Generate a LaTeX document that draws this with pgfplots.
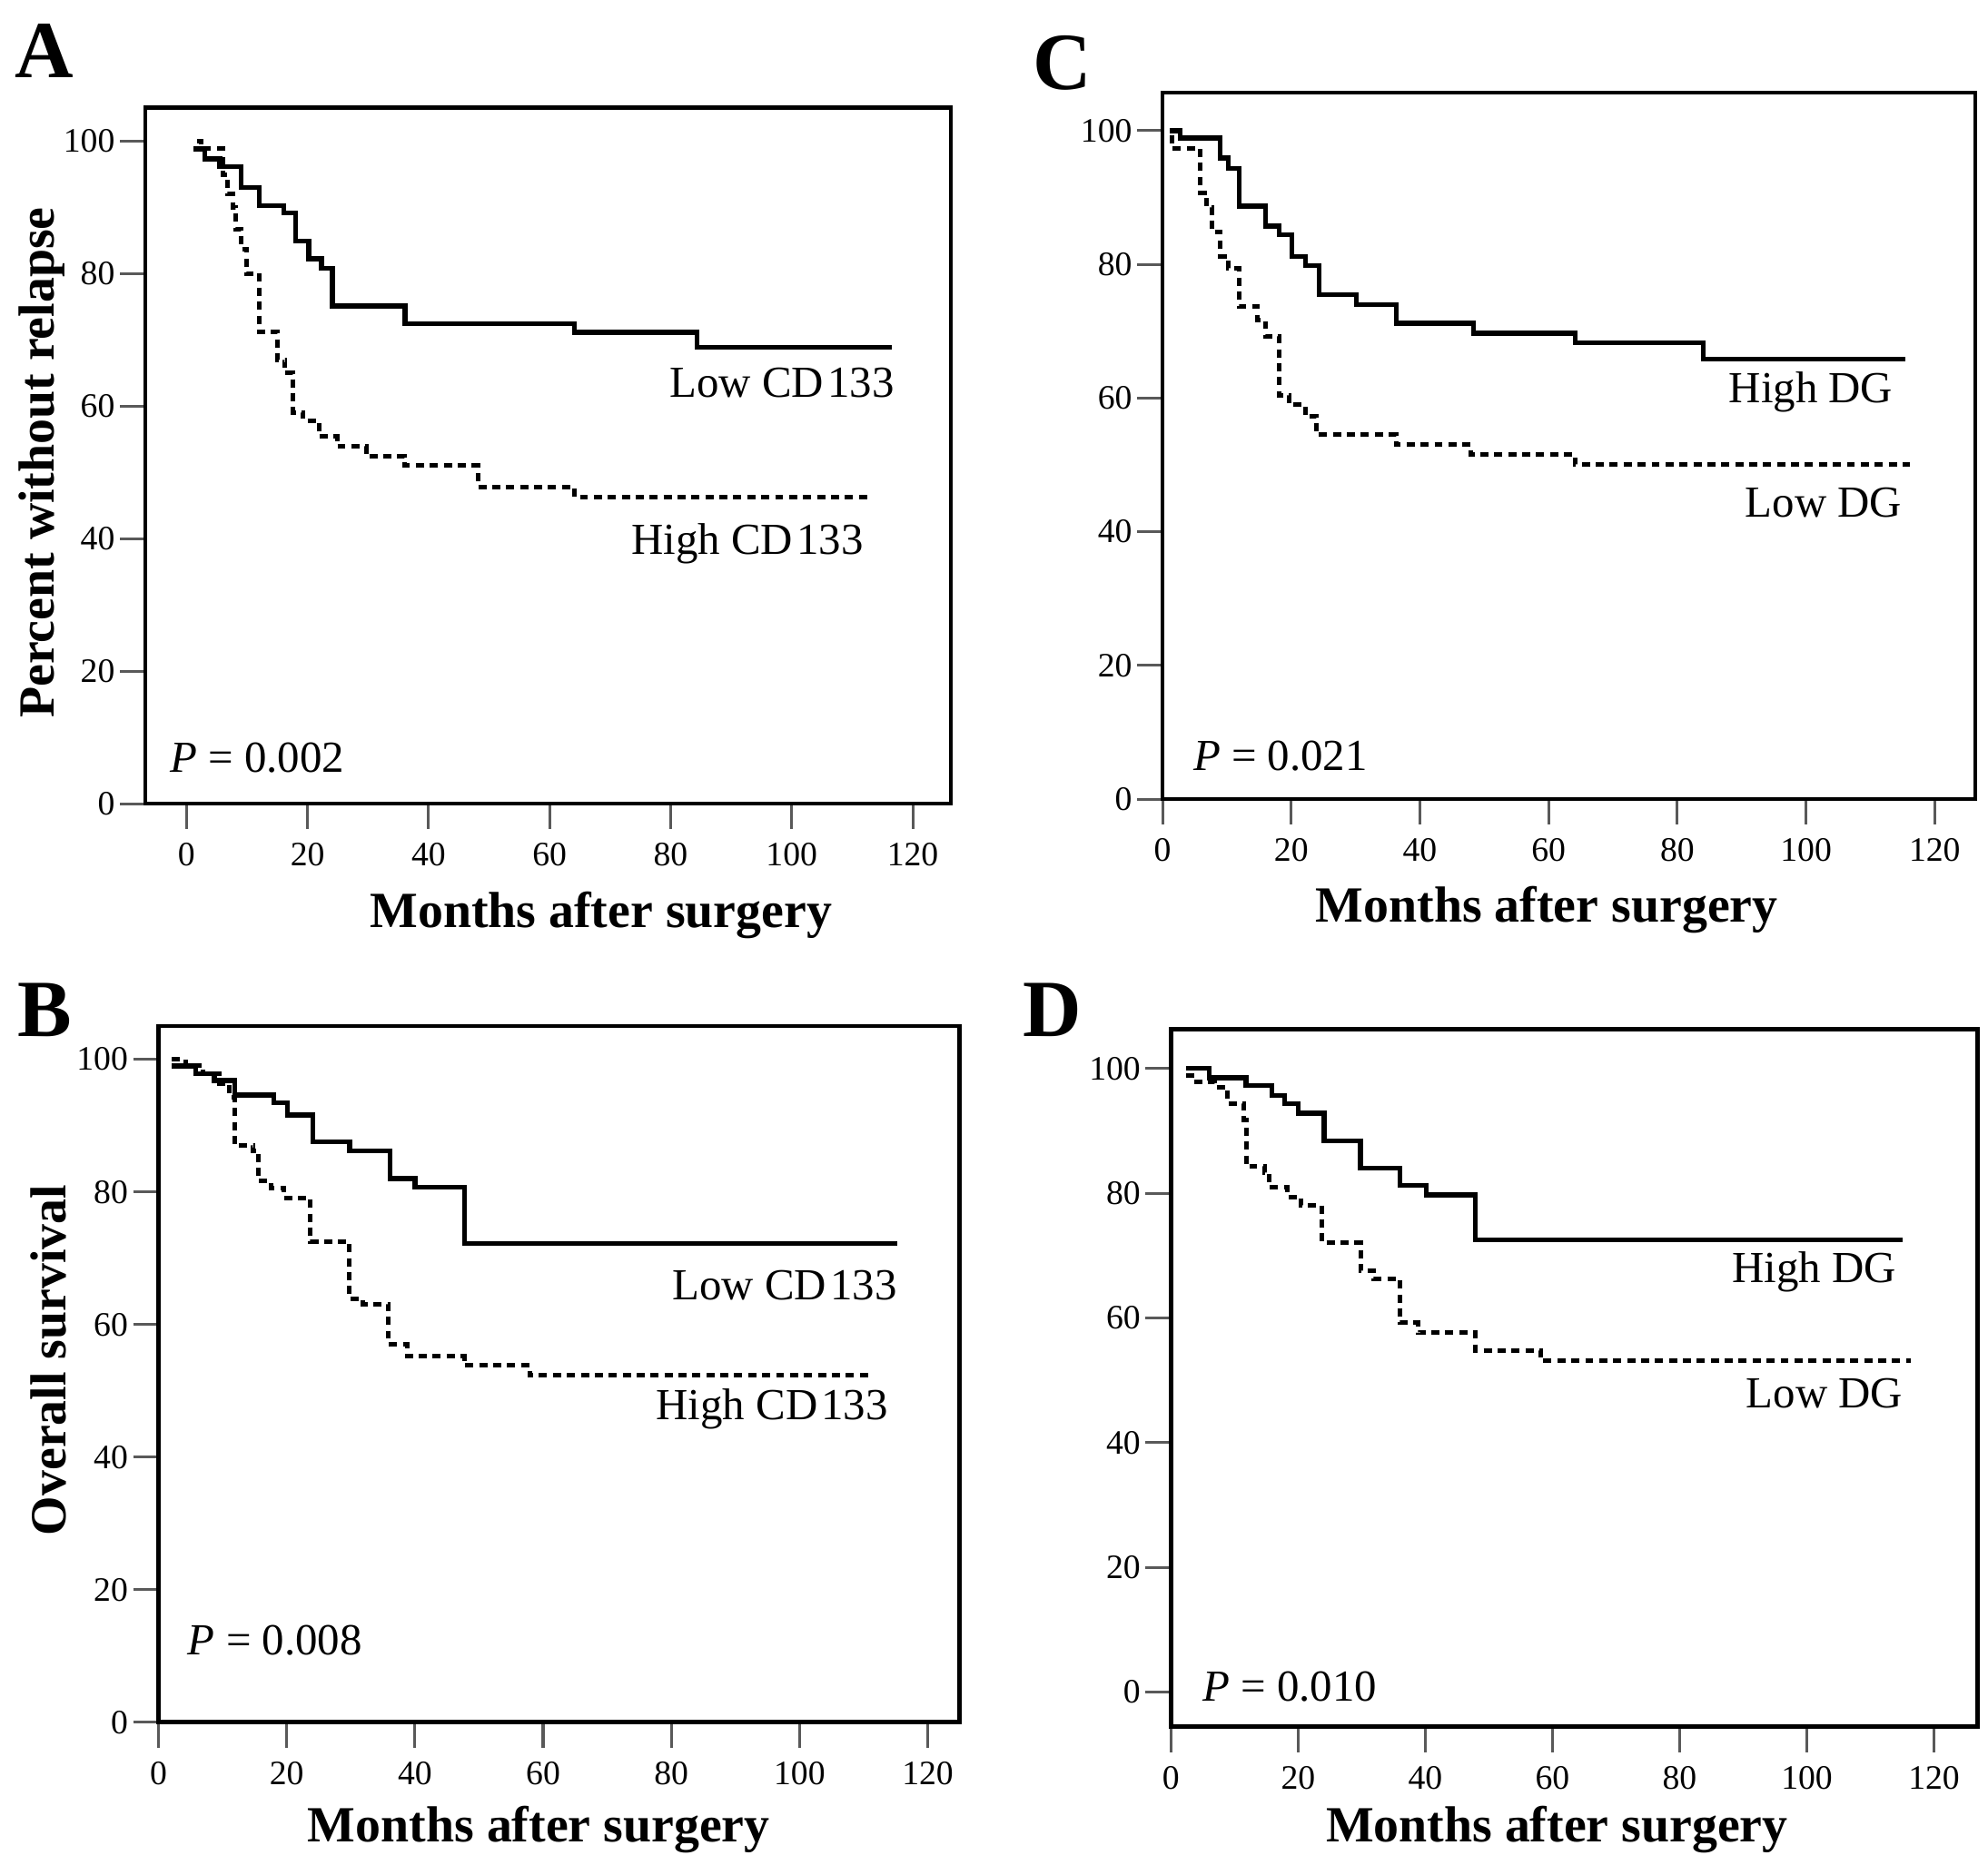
\documentclass[border=0pt]{standalone}
\usepackage{fontspec}
\setmainfont{Liberation Serif}
\usepackage{pgfplots}
\pgfplotsset{compat=1.18}

\pgfplotsset{
  km/.style={
    scale only axis,
    anchor=south west,
    axis line style={line width=1.7pt},
    xtick={0,20,...,120}, ytick={0,20,...,100},
    tick align=outside, xtick pos=left, ytick pos=left,
    major tick length=10pt,
    tick style={line width=1.1pt, black!65},
    tick label style={font=\fontsize{13.5}{13.5}\selectfont},
    xticklabel style={yshift=-2pt},
    yticklabel style={xshift=1.5pt},
    /pgf/number format/assume math mode=true,
    clip=false,
  },
  solidkm/.style={const plot, black, line width=1.9pt},
  dashkm/.style={const plot, black, line width=1.8pt, dash pattern=on 3.2pt off 2.3pt},
}
\newcommand{\lab}{\fontsize{17.5}{17.5}\selectfont}
\newcommand{\axlab}{\bfseries\fontsize{20}{20}\selectfont}
\newcommand{\panel}{\bfseries\fontsize{32}{32}\selectfont}

\begin{document}
\begin{tikzpicture}
\useasboundingbox (0,0) rectangle (784pt,739.5pt);

% A: relapse-free, CD133
\begin{axis}[km, at={(57.3pt,422.5pt)}, width=317.7pt, height=274.5pt,
    xmin=-6.8, xmax=126.3, ymin=0, ymax=105]
\addplot[solidkm] coordinates {
(1.2,98.8) (3.0,97.3) (5.5,96.1) (9.0,93.0) (12.0,90.2) (16.1,89.1) (18.0,84.9) (20.2,82.2) (22.3,80.8) (24.1,75.1) (36.1,72.4) (64.1,71.1) (84.4,68.9) (116.6,68.9)
};
\addplot[dashkm] coordinates {
(1.7,100) (2.5,98.8) (6.0,94.9) (6.8,92.0) (7.7,90.0) (8.1,86.6) (9.0,83.7) (9.9,80.0) (12.0,71.2) (15.0,67.0) (16.3,65.0) (17.6,59.0) (19.3,57.8) (21.9,55.4) (24.9,53.9) (29.7,52.4) (36.1,51.0) (48.2,47.8) (64.1,46.3) (112.8,46.3)
};
\node[anchor=east, font=\lab] at (axis cs:118.4,63.5) {Low CD\kern1.5pt 133};
\node[anchor=east, font=\lab] at (axis cs:113.3,39.2) {High CD\kern1.5pt 133};
\node[anchor=west, font=\lab] at (axis cs:-4.2,6.9) {\textit{P} = 0.002};
\end{axis}

% C: relapse-free, DG
\begin{axis}[km, at={(458.45pt,424.3pt)}, width=320.5pt, height=278.7pt,
    xmin=0, xmax=126.3, ymin=0, ymax=105.7]
\addplot[solidkm] coordinates {
(1.1,100) (2.7,98.9) (9.0,95.9) (10.2,94.3) (11.9,88.7) (16.0,85.7) (18.1,84.4) (20.1,81.2) (22.2,79.8) (24.3,75.5) (30.1,74.0) (36.3,71.2) (48.3,69.7) (64.1,68.3) (84.0,65.8) (115.4,65.8)
};
\addplot[dashkm] coordinates {
(1.1,98.9) (1.5,97.3) (5.9,90.7) (6.9,88.5) (7.7,84.8) (9.0,81.2) (10.2,79.4) (11.9,73.7) (14.8,71.7) (16.0,69.2) (18.1,60.4) (19.7,59.0) (22.2,57.2) (23.9,54.5) (36.3,53.0) (47.9,51.5) (64.1,50.0) (116.2,50.0)
};
\node[anchor=east, font=\lab] at (axis cs:114.9,60.9) {High DG};
\node[anchor=east, font=\lab] at (axis cs:116.3,44.4) {Low DG};
\node[anchor=west, font=\lab] at (axis cs:3.4,6.5) {\textit{P} = 0.021};
\end{axis}

% B: overall survival, CD133
\begin{axis}[km, at={(62.5pt,60.15pt)}, width=316pt, height=274.6pt,
    xmin=0, xmax=125, ymin=0, ymax=105]
\addplot[solidkm] coordinates {
(2.1,99.0) (5.8,97.8) (8.7,96.8) (11.9,94.6) (18.0,93.4) (20.1,91.6) (24.1,87.6) (29.8,86.2) (36.1,82.0) (40.0,80.7) (47.7,72.2) (115.3,72.2)
};
\addplot[dashkm] coordinates {
(2.1,100) (4.2,99.0) (7.0,97.8) (9.5,96.3) (11.1,94.3) (11.9,87.0) (14.8,86.2) (15.6,81.6) (17.6,80.6) (19.6,79.1) (23.7,72.5) (29.8,63.8) (31.9,63.1) (35.9,57.0) (38.8,55.2) (47.7,53.8) (57.9,52.3) (111.3,52.3)
};
\node[anchor=east, font=\lab] at (axis cs:116.6,65.9) {Low CD\kern1.5pt 133};
\node[anchor=east, font=\lab] at (axis cs:115.2,47.2) {High CD\kern1.5pt 133};
\node[anchor=west, font=\lab] at (axis cs:3.2,12.4) {\textit{P} = 0.008};
\end{axis}

% D: overall survival, DG
\begin{axis}[km, at={(461.8pt,58.35pt)}, width=318.2pt, height=275.2pt,
    xmin=0, xmax=126.9, ymin=-5.6, ymax=106.3]
\addplot[solidkm] coordinates {
(2.4,100) (6.0,98.5) (11.8,97.3) (15.9,95.7) (17.9,94.4) (20.0,92.8) (24.1,88.4) (29.8,84.0) (36.0,81.2) (40.1,79.7) (47.9,72.5) (115.1,72.5)
};
\addplot[dashkm] coordinates {
(2.4,98.8) (4.0,97.8) (6.9,97.0) (8.9,94.4) (11.4,91.8) (11.8,84.3) (14.7,83.3) (15.5,80.9) (18.3,79.4) (20.4,78.1) (23.7,72.1) (29.8,67.5) (31.9,66.2) (36.0,59.2) (38.8,57.6) (47.9,54.8) (58.1,53.2) (116.3,53.2)
};
\node[anchor=east, font=\lab] at (axis cs:115.5,67.3) {High DG};
\node[anchor=east, font=\lab] at (axis cs:116.5,47.9) {Low DG};
\node[anchor=west, font=\lab] at (axis cs:3.6,0.8) {\textit{P} = 0.010};
\end{axis}

% axis titles and panel letters
\node[font=\axlab] at (237pt,378.5pt) {Months after surgery};
\node[font=\axlab] at (610pt,380.5pt) {Months after surgery};
\node[font=\axlab] at (212.5pt,18pt) {Months after surgery};
\node[font=\axlab] at (614pt,18pt) {Months after surgery};
\node[font=\axlab, rotate=90] at (16.5pt,557pt) {Percent without relapse};
\node[font=\axlab, rotate=90] at (19pt,203pt) {Overall survival};
\node[font=\panel] at (17.5pt,719.5pt) {A};
\node[font=\panel] at (17.5pt,341pt) {B};
\node[font=\panel] at (419pt,714.5pt) {C};
\node[font=\panel] at (415pt,341pt) {D};
\end{tikzpicture}
\end{document}
